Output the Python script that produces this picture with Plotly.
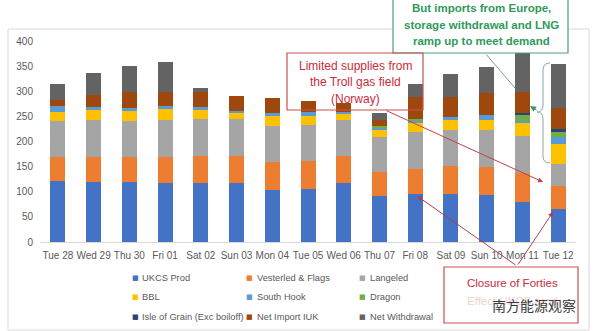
import plotly.graph_objects as go

categories = ["Tue 28", "Wed 29", "Thu 30", "Fri 01", "Sat 02", "Sun 03", "Mon 04", "Tue 05",
              "Wed 06", "Thu 07", "Fri 08", "Sat 09", "Sun 10", "Mon 11", "Tue 12"]

ukcs_prod      = [121, 120, 120, 118, 117, 117, 103, 105, 117, 92, 95, 95, 94, 80, 65]
vesterled      = [49, 50, 50, 52, 54, 54, 57, 57, 54, 48, 50, 57, 56, 57, 46]
langeled       = [71, 73, 71, 73, 73, 73, 71, 71, 72, 68, 73, 71, 73, 73, 44]
bbl            = [18, 20, 19, 22, 19, 12, 20, 18, 11, 15, 18, 20, 20, 27, 41]
south_hook     = [12, 5, 7, 6, 6, 5, 6, 8, 5, 4, 4, 6, 10, 4, 12]
dragon         = [0, 0, 0, 0, 0, 0, 0, 0, 0, 4, 5, 0, 0, 13, 10]
isle_of_grain  = [0, 0, 0, 0, 0, 0, 0, 0, 0, 0, 0, 0, 0, 2, 7]
net_import_iuk = [12, 24, 32, 28, 30, 30, 30, 22, 17, 12, 43, 40, 43, 43, 42]
net_withdrawal = [31, 45, 51, 59, 7, 0, 0, 0, 0, 14, 26, 45, 53, 80, 88]

series_names = ["UKCS Prod", "Vesterled & Flags", "Langeled", "BBL", "South Hook", "Dragon",
                "Isle of Grain (Exc boiloff)", "Net Import IUK", "Net Withdrawal"]
series_values = [ukcs_prod, vesterled, langeled, bbl, south_hook, dragon,
                 isle_of_grain, net_import_iuk, net_withdrawal]
series_colors = ["#4472C4", "#ED7D31", "#A5A5A5", "#FFC000", "#5B9BD5", "#70AD47",
                 "#264478", "#9E480E", "#636363"]

W, H = 594, 331
ML, MR, MT, MB = 40, 18, 41, 89
PW = W - ML - MR
PH = H - MT - MB


def px(x):
    return (x - ML) / PW


def py(y):
    return (H - MB - y) / PH


FONT = "Liberation Sans, Arial, sans-serif"
TXT = "#595959"

fig = go.Figure()
for name, vals, col in zip(series_names, series_values, series_colors):
    fig.add_trace(go.Bar(x=categories, y=vals, name=name, showlegend=False,
                         marker=dict(color=col, line=dict(width=0))))

ann = []
# legend (3 columns x 3 rows, row-major like the original)
leg_marker_x = [135, 249.5, 362]
leg_text_x = [140, 254.5, 368]
leg_row_y = [278, 297, 316.5]
for i, (name, col) in enumerate(zip(series_names, series_colors)):
    c, r = i % 3, i // 3
    ann.append(dict(text="■", x=px(leg_marker_x[c]), y=py(leg_row_y[r]), xref="paper",
                    yref="paper", showarrow=False, xanchor="center", yanchor="middle",
                    font=dict(size=7, color=col, family="DejaVu Sans")))
    ann.append(dict(text=name, x=px(leg_text_x[c]), y=py(leg_row_y[r]), xref="paper",
                    yref="paper", showarrow=False, xanchor="left", yanchor="middle",
                    font=dict(size=9.3, color=TXT, family=FONT)))

shapes = []
# chart area border
shapes.append(dict(type="rect", xref="paper", yref="paper", x0=px(8), x1=px(589),
                   y0=py(330), y1=py(29), line=dict(color="#d9d9d9", width=1),
                   fillcolor="rgba(0,0,0,0)", layer="below"))
# green box
shapes.append(dict(type="rect", xref="paper", yref="paper", x0=px(393), x1=px(568),
                   y0=py(53), y1=py(-3), line=dict(color="#4e9f78", width=1.2),
                   fillcolor="white", layer="above"))
# red Troll box
shapes.append(dict(type="rect", xref="paper", yref="paper", x0=px(287), x1=px(423),
                   y0=py(110), y1=py(53), line=dict(color="#c9504f", width=1.2),
                   fillcolor="rgba(0,0,0,0)", layer="above"))
# red Forties box
shapes.append(dict(type="rect", xref="paper", yref="paper", x0=px(444), x1=px(578),
                   y0=py(323), y1=py(267), line=dict(color="#c9504f", width=1.2),
                   fillcolor="white", layer="above"))
# curly brace
path = (f"M {px(550)},{py(63)} Q {px(543)},{py(63)} {px(543)},{py(70)} "
        f"L {px(543)},{py(105)} Q {px(543)},{py(112)} {px(537)},{py(112)} "
        f"Q {px(543)},{py(112)} {px(543)},{py(119)} "
        f"L {px(543)},{py(156)} Q {px(543)},{py(163)} {px(550)},{py(163)}")
shapes.append(dict(type="path", xref="paper", yref="paper", path=path,
                   line=dict(color="#8fa3ad", width=1), layer="above"))

GREEN = "#2f9a5a"
RED = "#cc2a3a"
for txt, y in [("But imports from Europe,", 8), ("storage withdrawal and LNG", 25),
               ("ramp up to meet demand", 41)]:
    ann.append(dict(text=f"<b>{txt}</b>", x=px(481), y=py(y), xref="paper", yref="paper",
                    showarrow=False, xanchor="center", yanchor="middle",
                    font=dict(size=11.5, color=GREEN, family=FONT)))
for txt, y in [("Limited supplies from", 66), ("the Troll gas field", 82), ("(Norway)", 99)]:
    ann.append(dict(text=txt, x=px(355), y=py(y), xref="paper", yref="paper",
                    showarrow=False, xanchor="center", yanchor="middle",
                    font=dict(size=12, color=RED, family=FONT)))
ann.append(dict(text="Closure of Forties", x=px(512), y=py(283), xref="paper", yref="paper",
                showarrow=False, xanchor="center", yanchor="middle",
                font=dict(size=11.5, color=RED, family=FONT)))
ann.append(dict(text="Effect UKCS prod", x=px(512), y=py(301), xref="paper", yref="paper",
                showarrow=False, xanchor="center", yanchor="middle",
                font=dict(size=11.5, color="#f3d0d3", family=FONT)))
ann.append(dict(text="南方能源观察", x=px(534), y=py(305), xref="paper", yref="paper",
                showarrow=False, xanchor="center", yanchor="middle",
                font=dict(size=14, color="#3a3a3a", family="Noto Sans CJK SC")))


def arrow(hx, hy, tx, ty, color, head=2, size=1.0, width=1.0):
    return dict(text="", x=px(hx), y=py(hy), xref="paper", yref="paper",
                ax=tx - hx, ay=ty - hy, showarrow=True, arrowhead=head,
                arrowsize=size, arrowwidth=width, arrowcolor=color, standoff=0)


ann.append(arrow(543, 182, 385, 110, "#c0424a"))
ann.append(arrow(417, 196, 517, 266, "#a8404f"))
ann.append(arrow(553, 212, 517, 266, "#a8404f"))
ann.append(arrow(515, 88, 485, 53, "#7e9c8c", head=0))
ann.append(arrow(530, 106, 538, 111, "#3a9b5c", head=2, size=1.2))

fig.update_layout(
    width=W, height=H, barmode="stack", bargap=0.58, showlegend=False,
    margin=dict(l=ML, r=MR, t=MT, b=MB, pad=0, autoexpand=False),
    plot_bgcolor="white", paper_bgcolor="white",
    font=dict(family=FONT, color=TXT, size=10),
    xaxis=dict(showline=True, linecolor="#d9d9d9", linewidth=1, ticks="", showgrid=False,
               tickfont=dict(size=10, color=TXT), ticklabelstandoff=4),
    yaxis=dict(range=[0, 400], dtick=50, showgrid=False, showline=False, zeroline=False,
               ticks="", tickfont=dict(size=10, color=TXT), ticklabelstandoff=6),
    shapes=shapes, annotations=ann,
)

fig.write_html("out.html")
